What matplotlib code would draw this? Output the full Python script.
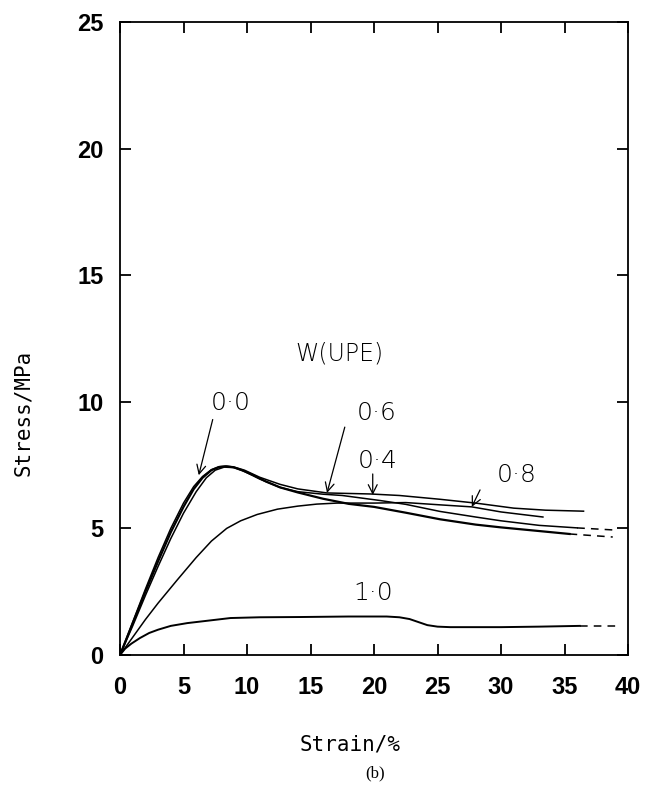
import matplotlib
matplotlib.use("Agg")
import matplotlib.pyplot as plt

# Stress-strain curves for W(UPE) blends

# W(UPE) = 0.0
strain_00 = [0, 1, 2, 3, 4, 5, 5.8, 6.5, 7.2, 7.8, 8.3, 8.9, 9.6, 10.5, 11.5, 12.6, 14, 16, 18, 20, 22.5, 25.2, 28, 30, 32.5, 35.4]
stress_00 = [0, 1.25, 2.5, 3.7, 4.85, 5.85, 6.55, 7.0, 7.3, 7.42, 7.45, 7.42, 7.3, 7.1, 6.85, 6.62, 6.42, 6.17, 5.97, 5.85, 5.62, 5.36, 5.15, 5.04, 4.92, 4.78]
dash_x_00 = [35.4, 38.8]
dash_y_00 = [4.78, 4.66]

# W(UPE) = 0.4
strain_04 = [0, 1, 2, 3, 4, 5, 6, 6.8, 7.5, 8.2, 9, 9.8, 11, 12.6, 14, 16, 17.5, 19, 20.5, 22.5, 25.2, 28, 30, 33, 36]
stress_04 = [0, 1.15, 2.35, 3.5, 4.6, 5.6, 6.45, 7.0, 7.3, 7.42, 7.4, 7.25, 6.95, 6.62, 6.45, 6.35, 6.3, 6.2, 6.1, 5.95, 5.67, 5.45, 5.3, 5.12, 5.02]
dash_x_04 = [36, 38.8]
dash_y_04 = [5.02, 4.94]

# W(UPE) = 0.6
strain_06 = [0, 1, 2, 3, 4, 5, 5.8, 6.5, 7.2, 7.8, 8.4, 9, 9.8, 11, 12.6, 14, 16.3, 18, 19.7, 22, 25.2, 28, 31, 33.5, 36.5]
stress_06 = [0, 1.3, 2.6, 3.85, 5.0, 6.0, 6.65, 7.05, 7.32, 7.44, 7.46, 7.42, 7.3, 7.02, 6.74, 6.56, 6.4, 6.38, 6.36, 6.3, 6.15, 6.0, 5.8, 5.72, 5.68]

# W(UPE) = 0.8
strain_08 = [0, 1, 2, 3, 4.5, 6, 7.2, 8.4, 9.5, 10.8, 12.4, 14, 15.5, 17.1, 20, 22.5, 25.2, 27.7, 30, 33.3]
stress_08 = [0, 0.7, 1.4, 2.05, 2.96, 3.85, 4.5, 5.0, 5.3, 5.55, 5.76, 5.88, 5.96, 6.0, 6.0, 6.02, 5.93, 5.85, 5.65, 5.45]

# W(UPE) = 1.0
strain_10 = [0, 0.4, 0.9, 1.57, 2.3, 3, 4, 5.3, 7, 8.7, 11, 14.2, 18, 21, 22, 22.8, 23.5, 24.2, 25, 26, 30, 33, 36.2]
stress_10 = [0, 0.25, 0.45, 0.67, 0.87, 1.0, 1.15, 1.26, 1.36, 1.46, 1.49, 1.5, 1.52, 1.52, 1.49, 1.42, 1.3, 1.18, 1.12, 1.1, 1.1, 1.12, 1.15]
dash_x_10 = [36.2, 39.2]
dash_y_10 = [1.15, 1.15]

# curve labels: text, text position, arrow tail and tip (None = no arrow)
labels = ["0·0", "0·6", "0·4", "0·8", "1·0"]
label_pos = [(8.7, 9.95), (20.2, 9.55), (20.3, 7.65), (31.2, 7.1), (19.9, 2.45)]
arrow_start = [(7.3, 9.3), (17.7, 9.0), (19.9, 7.15), (28.35, 6.52), None]
arrow_tip = [(6.2, 7.1), (16.3, 6.4), (19.9, 6.32), (27.7, 5.85), None]

fig = plt.figure(figsize=(6.5, 7.96), dpi=100)
ax = fig.add_axes([120 / 650, 1 - 655 / 796, 508 / 650, 633 / 796])

lw = 1.1
ax.plot(strain_00, stress_00, color="black", lw=lw + 0.5)
ax.plot(strain_04, stress_04, color="black", lw=lw)
ax.plot(strain_06, stress_06, color="black", lw=lw)
ax.plot(strain_08, stress_08, color="black", lw=lw)
ax.plot(strain_10, stress_10, color="black", lw=lw + 0.3)
for dx, dy in [(dash_x_00, dash_y_00), (dash_x_04, dash_y_04), (dash_x_10, dash_y_10)]:
    ax.plot(dx, dy, color="black", lw=lw, ls=(0, (5, 4)))

ax.text(17.3, 11.9, "W(UPE)", fontsize=17, ha="center", va="center",
        family="DejaVu Sans", fontweight="light")
for lab, pos, a0, a1 in zip(labels, label_pos, arrow_start, arrow_tip):
    ax.text(pos[0], pos[1], lab, fontsize=18, ha="center", va="center",
            family="DejaVu Sans", fontweight="light")
    if a0 is not None:
        ax.annotate("", xy=a1, xytext=a0,
                    arrowprops=dict(arrowstyle="->", color="black", lw=0.9,
                                    mutation_scale=16, shrinkA=0, shrinkB=0))

ax.set_xlim(0, 40)
ax.set_ylim(0, 25)
ax.set_xticks(range(0, 41, 5))
ax.set_yticks(range(0, 26, 5))
ax.tick_params(direction="in", length=8, width=1.3, top=True, right=True)
ax.tick_params(axis="x", pad=15)
ax.tick_params(axis="y", pad=12)
for lab in ax.get_xticklabels() + ax.get_yticklabels():
    lab.set_fontproperties({"family": "Liberation Sans", "weight": "bold", "size": 17})
for sp in ax.spines.values():
    sp.set_linewidth(1.3)

fig.text(350 / 650, 1 - 744 / 796, "Strain/%", fontsize=15, ha="center", va="center",
         family="DejaVu Sans Mono")
fig.text(23 / 650, 1 - 413 / 796, "Stress/MPa", fontsize=15, ha="center", va="center",
         rotation=90, family="DejaVu Sans Mono")
fig.text(375 / 650, 1 - 773 / 796, "(b)", fontsize=12, ha="center", va="center",
         family="Liberation Serif")

fig.savefig("out.png", dpi=100)
